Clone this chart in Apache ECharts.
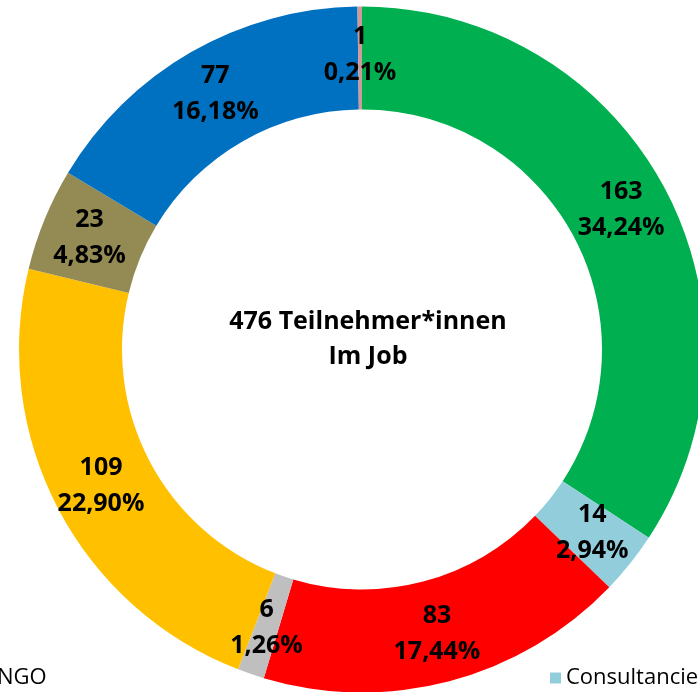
<!DOCTYPE html>
<html>
<head>
<meta charset="utf-8">
<script src="https://cdn.jsdelivr.net/npm/echarts@6/dist/echarts.min.js"></script>
<style>
  html, body { margin: 0; padding: 0; background: #fff; }
  #chart { width: 698px; height: 692px; }
</style>
</head>
<body>
<div id="chart"></div>
<script>
// Sektoren im Uhrzeigersinn ab 12 Uhr
const sectors = ['NGO', 'Consultancies', 'Öffentlicher Dienst', 'Selbstständig',
    'Privatwirtschaft', 'Sonstiges', 'Wissenschaft', 'Internationale Organisation']
const counts = [163, 14, 83, 6, 109, 23, 77, 1]
const colors = ['#00B050', '#92CDDC', '#FF0000', '#BFBFBF', '#FFC000', '#948A54', '#0070C0', '#D09A9A']
const centerText = '476 Teilnehmer*innen\nIm Job'

const total = counts.reduce((a, b) => a + b, 0)

const chart = echarts.init(document.getElementById('chart'))

const legendText = { fontFamily: 'Open Sans', fontSize: 22, color: '#000' }

const option = {
    animation: false,
    color: colors,
    legend: [{
        data: ['NGO'],
        left: -24,
        top: 662,
        icon: 'rect',
        itemWidth: 11,
        itemHeight: 11,
        itemGap: 4,
        textStyle: legendText
    }, {
        data: ['Consultancies'],
        left: 545,
        top: 662,
        icon: 'rect',
        itemWidth: 11,
        itemHeight: 11,
        textStyle: legendText
    }],
    graphic: [{
        type: 'text',
        x: 368,
        y: 339,
        style: {
            text: centerText,
            align: 'center',
            verticalAlign: 'middle',
            fontFamily: 'Open Sans',
            fontWeight: 'bold',
            fontSize: 25,
            lineHeight: 35,
            fill: '#000'
        }
    }],
    series: [{
        type: 'pie',
        center: [362, 349.5],
        radius: [240, 343],
        startAngle: 90,
        clockwise: true,
        avoidLabelOverlap: false,
        itemStyle: { borderWidth: 0 },
        emphasis: { disabled: true },
        label: {
            show: true,
            position: 'inside',
            fontFamily: 'Open Sans',
            fontWeight: 'bold',
            fontSize: 25,
            lineHeight: 36,
            color: '#000',
            formatter: p => p.value + '\n' + (p.value / total * 100).toFixed(2).replace('.', ',') + '%'
        },
        labelLine: { show: false },
        data: sectors.map((name, i) => ({ name: name, value: counts[i] }))
    }]
}

chart.setOption(option)
</script>
</body>
</html>
